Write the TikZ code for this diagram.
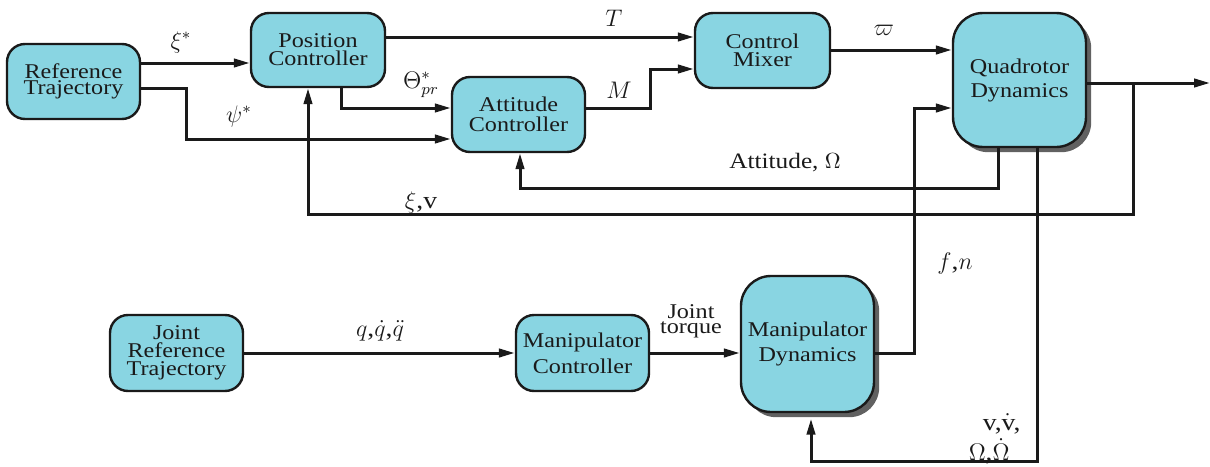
\documentclass[tikz,border=0pt]{standalone}
\usepackage{fontspec}
\setmainfont{Liberation Serif}[FakeStretch=1.15]
\usetikzlibrary{arrows.meta,shadows,calc}
\definecolor{boxfill}{RGB}{137,213,226}
\definecolor{ink}{RGB}{26,26,26}
\tikzset{
  blk/.style={draw=ink, line width=1.2pt, fill=boxfill, rounded corners=9pt,
    align=center, inner sep=0pt, text=ink},
  shad/.style={drop shadow={shadow xshift=2.6pt, shadow yshift=-2.6pt, fill=black!62, opacity=1}},
  arr/.style={draw=ink, line width=1.5pt, -{Triangle[length=8pt,width=4.2pt]}},
  ln/.style={draw=ink, line width=1.5pt},
  lab/.style={inner sep=0pt, text=ink, font=\fontsize{12pt}{14pt}\selectfont},
}
\newcommand{\bfs}[1]{\fontsize{10.5pt}{#1}\selectfont}
\begin{document}
\begin{tikzpicture}[x=0.5pt,y=-0.5pt]
\useasboundingbox (0,0) rectangle (1210,466);
% blocks
\node[blk, minimum width=66.5pt, minimum height=37.5pt, font=\bfs{8pt}] (rt) at (73.5,81.5) {Reference\\Trajectory};
\node[blk, minimum width=67pt, minimum height=37pt, font=\bfs{9pt}] (pc) at (318,50) {Position\\Controller};
\node[blk, minimum width=66.5pt, minimum height=37.5pt, font=\bfs{10pt}] (ac) at (518.5,114.5) {Attitude\\Controller};
\node[blk, minimum width=67.5pt, minimum height=37.5pt, font=\bfs{9pt}] (cm) at (762.5,50.5) {Control\\Mixer};
\node[blk, shad, rounded corners=15pt, minimum width=66.5pt, minimum height=67pt, font=\bfs{12pt}] (qd) at (1019.5,80) {Quadrotor\\Dynamics};
\node[blk, minimum width=66.5pt, minimum height=38pt, font=\bfs{9pt}] (jr) at (176.5,353) {Joint\\Reference\\Trajectory};
\node[blk, minimum width=66.5pt, minimum height=38pt, font=\bfs{13pt}] (mc) at (582.5,353) {Manipulator\\Controller};
\node[blk, shad, rounded corners=15pt, minimum width=66.5pt, minimum height=68pt, font=\bfs{12.5pt}] (md) at (807.5,344) {Manipulator\\Dynamics};
% connectors
\draw[arr] (rt.east |- 0,63) -- (pc.west |- 0,63);
\draw[arr] (rt.east |- 0,88) -- (186,88) |- (ac.west |- 0,139);
\draw[arr] (pc.south -| 341,0) |- (ac.west |- 0,108);
\draw[arr] (pc.east |- 0,37) -- (cm.west |- 0,37);
\draw[arr] (ac.east |- 0,108) -- (650,108) |- (cm.west |- 0,69);
\draw[arr] (cm.east |- 0,50) -- (qd.west |- 0,50);
\coordinate (out) at (1210,83);
\draw[arr] (qd.east |- 0,83) -- (out);
\draw[arr] (1133,83) -- (1133,214) -- (308,214) -- (pc.south -| 308,0);
\draw[arr] (qd.south -| 998,0) -- (998,188) -- (520,188) -- (ac.south -| 520,0);
\draw[arr] (md.east |- 0,353) -- (914,353) |- (qd.west |- 0,108);
\draw[arr] (qd.south -| 1037,0) -- (1037,461) -- (811,461) -- ($(md.south -| 811,0)+(0,5.5)$);
\draw[arr] (jr.east) -- (mc.west);
\draw[arr] (mc.east) -- (mc.east -| md.west);
% labels
\node[lab] (l1) at (181,42) {$\xi^*$};
\node[lab] (l2) at (239,116) {$\psi^*$};
\node[lab] (l3) at (421,85) {$\Theta^*_{pr}$};
\node[lab] (l4) at (614,18) {$T$};
\node[lab] (l5) at (619,90) {$M$};
\node[lab] (l6) at (884,30) {$\varpi$};
\node[lab, font=\fontsize{11pt}{13pt}\selectfont] (l7) at (785,163) {Attitude, $\Omega$};
\node[lab] (l8) at (421,202) {$\xi$,v};
\node[lab] (l9) at (955,263) {$f$,$n$};
\node[lab] (l10) at (380,331) {$q$,$\dot q$,$\ddot q$};
\node[lab, align=center, font=\bfs{7.5pt}] (l11) at (691,321) {Joint\\torque};
\node[lab, anchor=east] (l12) at (1021,424) {v,$\dot{\mathrm{v}}$,};
\node[lab, anchor=east] (l13) at (1010,451) {$\Omega$,$\dot\Omega$};
\end{tikzpicture}
\end{document}
